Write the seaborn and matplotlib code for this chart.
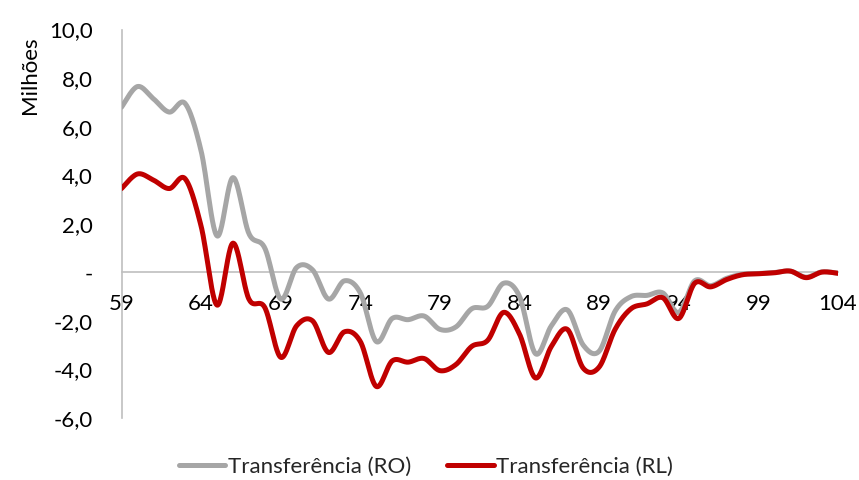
import numpy as np
import pandas as pd
import matplotlib
matplotlib.use("Agg")
import matplotlib.pyplot as plt
import seaborn as sns

# Idades (eixo X) e transferências em milhões
ages = list(range(59, 105))
transf_ro = [6.8, 7.65, 7.15, 6.6, 6.95, 5.0, 1.5, 3.9, 1.6, 1.0,
             -1.1, 0.2, 0.1, -1.1, -0.35, -0.85, -2.85, -1.9, -1.95, -1.8,
             -2.35, -2.25, -1.5, -1.4, -0.45, -1.0, -3.35, -2.2, -1.55, -3.0,
             -3.25, -1.6, -1.0, -0.95, -0.85, -1.65, -0.35, -0.55, -0.25, -0.08,
             -0.05, -0.01, 0.05, -0.2, 0.02, -0.04]
transf_rl = [3.45, 4.05, 3.8, 3.45, 3.85, 1.9, -1.35, 1.2, -1.1, -1.45,
             -3.5, -2.2, -2.0, -3.3, -2.45, -2.85, -4.7, -3.65, -3.7, -3.55,
             -4.05, -3.8, -3.05, -2.8, -1.65, -2.55, -4.35, -3.05, -2.35, -3.95,
             -3.9, -2.35, -1.5, -1.3, -1.05, -1.9, -0.45, -0.6, -0.3, -0.1,
             -0.06, -0.02, 0.05, -0.22, 0.01, -0.04]
series_names = ["Transferência (RO)", "Transferência (RL)"]
series_colors = ["#A6A6A6", "#C00000"]
y_ticks = [-6, -4, -2, 0, 2, 4, 6, 8, 10]
y_tick_labels = ["-6,0", "-4,0", "-2,0", "-", "2,0", "4,0", "6,0", "8,0", "10,0"]
x_ticks = list(range(59, 105, 5))


def smooth(x, y, steps=24):
    """Bezier smoothing through every point (Catmull-Rom tangents)."""
    x = np.asarray(x, float)
    y = np.asarray(y, float)
    px = np.concatenate([[x[0]], x, [x[-1]]])
    py = np.concatenate([[y[0]], y, [y[-1]]])
    xs, ys = [], []
    t = np.linspace(0, 1, steps, endpoint=False)
    for i in range(1, len(px) - 2):
        p0 = np.array([px[i], py[i]])
        p3 = np.array([px[i + 1], py[i + 1]])
        c1 = p0 + (np.array([px[i + 1], py[i + 1]]) - np.array([px[i - 1], py[i - 1]])) / 6
        c2 = p3 - (np.array([px[i + 2], py[i + 2]]) - np.array([px[i], py[i]])) / 6
        b = ((1 - t) ** 3)[:, None] * p0 + (3 * (1 - t) ** 2 * t)[:, None] * c1 \
            + (3 * (1 - t) * t ** 2)[:, None] * c2 + (t ** 3)[:, None] * p3
        xs.extend(b[:, 0])
        ys.extend(b[:, 1])
    xs.append(x[-1])
    ys.append(y[-1])
    return np.array(xs), np.array(ys)


frames = []
for name, vals in zip(series_names, [transf_ro, transf_rl]):
    sx, sy = smooth(ages, vals)
    frames.append(pd.DataFrame({"idade": sx, "valor": sy, "serie": name,
                                "ordem": np.arange(len(sx))}))
df = pd.concat(frames, ignore_index=True)

sns.set_theme(style="white")
plt.rcParams["font.family"] = ["Lato", "DejaVu Sans"]
FS = 16

fig = plt.figure(figsize=(8.59, 4.80), dpi=100)
ax = fig.add_axes([121.5 / 859, 1 - 418 / 480, (838 - 121.5) / 859, (418 - 29.5) / 480])

sns.lineplot(data=df, x="idade", y="valor", hue="serie", sort=False,
             palette=dict(zip(series_names, series_colors)), linewidth=3.6,
             estimator=None, ax=ax, legend=False, zorder=3)

ax.set_xlim(59, 104)
ax.set_ylim(-6, 10)
ax.set_yticks(y_ticks)
ax.set_yticklabels(y_tick_labels)
ax.set_xticks(x_ticks)
ax.set_xticklabels([str(v) for v in x_ticks])
ax.tick_params(axis="both", length=0, labelsize=FS, colors="#000000")
ax.tick_params(axis="y", pad=20.5)
ax.tick_params(axis="x", pad=15.5)
for lbl in ax.get_yticklabels():
    lbl.set_horizontalalignment("right")

for side in ["top", "right"]:
    ax.spines[side].set_visible(False)
ax.spines["left"].set_color("#BFBFBF")
ax.spines["left"].set_linewidth(1.2)
ax.spines["bottom"].set_color("#BFBFBF")
ax.spines["bottom"].set_linewidth(1.2)
ax.spines["bottom"].set_position(("data", 0))
ax.spines["left"].set_zorder(1)
ax.spines["bottom"].set_zorder(1)
ax.set_xlabel("")
ax.set_ylabel("")

fig.text(30 / 859, 1 - 75 / 480, "Milhões", rotation=90, ha="center", va="center",
         fontsize=FS, color="#000000")

handles = [plt.Line2D([], [], color=c, linewidth=3.6, solid_capstyle="round")
           for c in series_colors]
fig.legend(handles, series_names, loc="center", bbox_to_anchor=(426 / 859, 1 - 467 / 480),
           ncol=2, frameon=False, fontsize=FS, handlelength=2.1, handletextpad=0.12,
           columnspacing=1.6)

fig.savefig("out.png", dpi=100, facecolor="white")
